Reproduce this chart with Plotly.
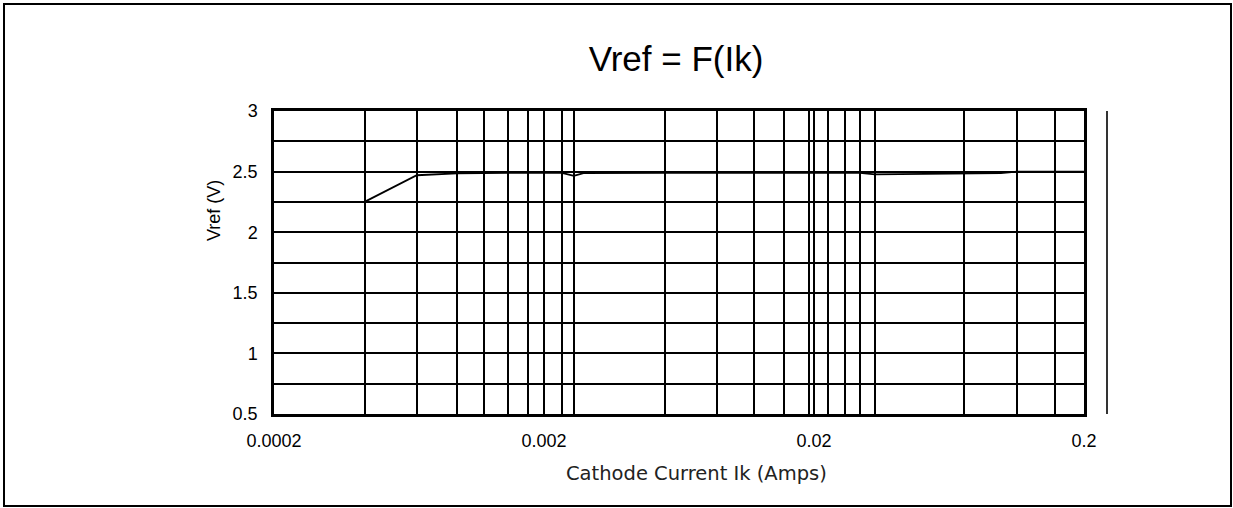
import math
import plotly.graph_objects as go

# ---- data ----
cathode_current_a = [0.000433, 0.000676, 0.00095, 0.0012, 0.00147, 0.00175, 0.002,
                     0.00233, 0.00258, 0.0028, 0.00562, 0.00877, 0.0120, 0.0155, 0.0191,
                     0.0226, 0.026, 0.0296, 0.0336, 0.0716, 0.0984, 0.113, 0.156, 0.2]
vref_v = [2.25, 2.47, 2.485, 2.49, 2.49, 2.49, 2.49,
          2.49, 2.465, 2.488, 2.49, 2.49, 2.49, 2.49, 2.49,
          2.49, 2.49, 2.49, 2.477, 2.487, 2.487, 2.5, 2.5, 2.5]

# vertical grid lines at measured currents
grid_currents_a = [0.000433, 0.000676, 0.00095, 0.0012, 0.00147, 0.00175, 0.002,
                   0.00233, 0.00258, 0.00562, 0.00877, 0.0120, 0.0155, 0.0191, 0.02,
                   0.0226, 0.026, 0.0296, 0.0336, 0.0716, 0.113, 0.156]

x_tick_vals = [0.0002, 0.002, 0.02, 0.2]
x_tick_text = ["0.0002", "0.002", "0.02", "0.2"]
y_tick_vals = [0.5, 1, 1.5, 2, 2.5, 3]
y_tick_text = ["0.5", "1", "1.5", "2", "2.5", "3"]

title_text = "Vref = F(Ik)"
x_title = "Cathode Current Ik (Amps)"
y_title = "Vref (V)"

# ---- layout geometry ----
W, H = 1233, 508
L, R, T, B = 274, 149, 111, 94
pw, ph = W - L - R, H - T - B


def px_to_paper_x(px):
    return (px - L) / pw


def px_to_paper_y(py):
    return (H - B - py) / ph


arial = "Liberation Sans, Arial, sans-serif"

fig = go.Figure()
fig.add_trace(go.Scatter(
    x=cathode_current_a, y=vref_v, mode="lines",
    line=dict(color="black", width=1.8), showlegend=False, hoverinfo="x+y"))

fig.update_layout(
    width=W, height=H,
    margin=dict(l=L, r=R, t=T, b=B, pad=0),
    paper_bgcolor="white", plot_bgcolor="white",
    showlegend=False,
    title=dict(text=title_text, x=676 / W, xanchor="center",
               y=1 - 59 / H, yanchor="middle", yref="container",
               font=dict(family=arial, size=35, color="black")),
    font=dict(family=arial, color="black"),
)

fig.update_xaxes(
    type="log",
    range=[math.log10(x_tick_vals[0]), math.log10(x_tick_vals[-1])],
    tickmode="array", tickvals=x_tick_vals, ticktext=x_tick_text,
    tickfont=dict(family=arial, size=18, color="black"),
    ticks="", ticklabelstandoff=9,
    showgrid=False,
    minor=dict(tickmode="array", tickvals=grid_currents_a, showgrid=True,
               gridcolor="black", gridwidth=1.8, ticks=""),
    showline=True, linecolor="black", linewidth=2.5, mirror=True,
    zeroline=False,
)

fig.update_yaxes(
    range=[0.5, 3],
    tickmode="array", tickvals=y_tick_vals, ticktext=y_tick_text,
    tickfont=dict(family=arial, size=18, color="black"),
    ticks="", ticklabelstandoff=10,
    showgrid=True, gridcolor="black", gridwidth=1.8,
    minor=dict(dtick=0.25, tick0=0.5, showgrid=True, gridcolor="black",
               gridwidth=1.8, ticks=""),
    showline=True, linecolor="black", linewidth=2.5, mirror=True,
    zeroline=False,
)

# axis titles as annotations (placed as in reference)
fig.add_annotation(text=x_title, xref="paper", yref="paper",
                   x=px_to_paper_x(696), y=px_to_paper_y(473),
                   xanchor="center", yanchor="middle", showarrow=False,
                   font=dict(family="DejaVu Sans, sans-serif", size=19.5, color="#222"))
fig.add_annotation(text=y_title, xref="paper", yref="paper",
                   x=px_to_paper_x(214), y=px_to_paper_y(211),
                   xanchor="center", yanchor="middle", showarrow=False, textangle=-90,
                   font=dict(family=arial, size=18, color="black"))

# outer chart border
fig.add_shape(type="rect", xref="paper", yref="paper",
              x0=px_to_paper_x(4), x1=px_to_paper_x(1231),
              y0=px_to_paper_y(506), y1=px_to_paper_y(4),
              line=dict(color="black", width=2), fillcolor="rgba(0,0,0,0)", layer="below")
# lone vertical rule to the right of the plot area
fig.add_shape(type="line", xref="paper", yref="paper",
              x0=px_to_paper_x(1107), x1=px_to_paper_x(1107), y0=0, y1=1,
              line=dict(color="black", width=1.6))

fig.write_html("out.html", config={"displayModeBar": False},
               post_script="document.body.style.margin='0';document.body.style.overflow='hidden';")
